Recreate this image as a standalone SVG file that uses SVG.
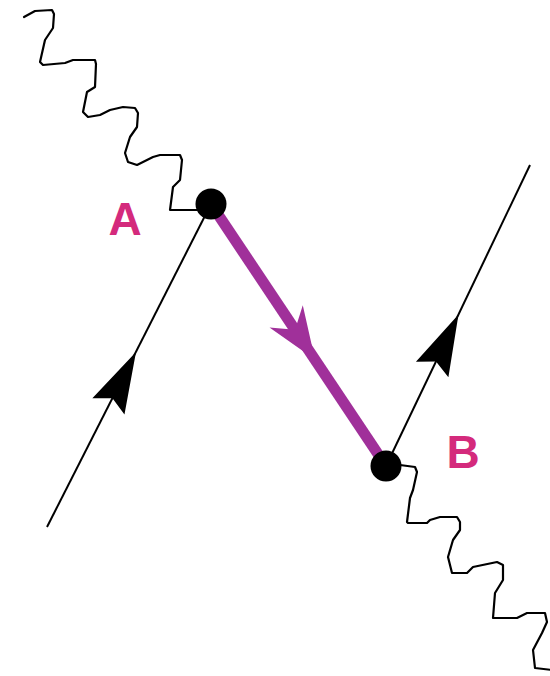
<svg xmlns="http://www.w3.org/2000/svg" width="550" height="676" viewBox="0 0 550 676">
  <style>
    .line { stroke: #000; stroke-width: 2; fill: none; }
    .wave { stroke: #000; stroke-width: 2.2; fill: none; stroke-linejoin: round; stroke-linecap: round; }
    .prop { stroke: #a0309a; stroke-width: 11; fill: none; }
    .lbl { font-family: "Liberation Sans", Arial, sans-serif; font-size: 46px; font-weight: bold; fill: #d42a7c; text-anchor: middle; }
  </style>
  <defs>
    <polygon id="headBlack" points="0,0 -61,18 -52,0 -61,-18" fill="#000"/>
    <polygon id="headPurple" points="0,0 -52,20 -36,0 -52,-20" fill="#a0309a"/>
  </defs>
  <rect width="550" height="676" fill="#fff"/>
  <g id="connectors">
    <polyline class="wave" points="24,17 35,11 52,10 54,14 53,28 45,40 40,62 43,65 65,63 73,60 95,60 96,64 95,87 87,92 83,112 88,117 100,115 110,110 123,107 135,108 138,113 137,127 130,137 125,153 128,162 137,165 153,157 160,155 180,155 182,160 180,180 173,187 170,210 197,210"/>
    <polyline class="wave" points="400,465 415,467 417,472 413,490 410,498 407,522 408,523 427,523 430,520 440,517 457,517 460,522 460,530 453,540 448,557 452,573 467,573 473,567 497,562 503,565 503,580 495,593 493,618 517,618 527,613 545,613 547,622 542,633 533,650 535,668 552,670"/>
    <line class="line" x1="211" y1="204" x2="47" y2="527"/>
    <use href="#headBlack" transform="translate(136,352) rotate(-63.1)"/>
    <line class="line" x1="386" y1="466" x2="530" y2="165"/>
    <use href="#headBlack" transform="translate(458.5,314.5) rotate(-64.4)"/>
    <line class="prop" x1="211" y1="204" x2="386" y2="466"/>
    <use href="#headPurple" transform="translate(315,359.6) rotate(56.3)"/>
  </g>
  <g id="A">
    <circle cx="211" cy="204" r="15.5" fill="#000"/>
    <text class="lbl" x="125" y="235">A</text>
  </g>
  <g id="B">
    <circle cx="386" cy="466" r="15.5" fill="#000"/>
    <text class="lbl" x="463" y="468">B</text>
  </g>
</svg>
